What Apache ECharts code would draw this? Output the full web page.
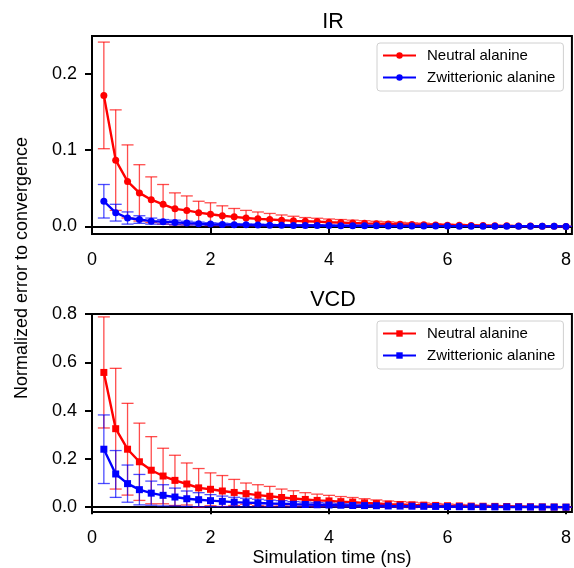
<!DOCTYPE html>
<html>
<head>
<meta charset="utf-8">
<script src="https://cdn.jsdelivr.net/npm/echarts@6/dist/echarts.min.js"></script>
<style>
  html, body { margin: 0; padding: 0; background: #fff; }
  #main { width: 574px; height: 568px; }
</style>
</head>
<body>
<div id="main"></div>
<script>
// 模拟时间 (ns)
const times = [0.2, 0.4, 0.6, 0.8, 1.0, 1.2, 1.4, 1.6, 1.8, 2.0,
               2.2, 2.4, 2.6, 2.8, 3.0, 3.2, 3.4, 3.6, 3.8, 4.0,
               4.2, 4.4, 4.6, 4.8, 5.0, 5.2, 5.4, 5.6, 5.8, 6.0,
               6.2, 6.4, 6.6, 6.8, 7.0, 7.2, 7.4, 7.6, 7.8, 8.0];

const seriesLabels = ['Neutral alanine', 'Zwitterionic alanine'];
const panelTitles = ['IR', 'VCD'];
const xTicks = [0, 2, 4, 6, 8];
const irTicks = [0, 0.1, 0.2];
const vcdTicks = [0, 0.2, 0.4, 0.6, 0.8];

// IR
const irNeutral = [0.172, 0.087, 0.059, 0.044, 0.035, 0.029, 0.023, 0.021, 0.018, 0.016,
                   0.014, 0.0125, 0.011, 0.0099, 0.009, 0.0082, 0.0073, 0.0068, 0.0063, 0.0055,
                   0.005, 0.0045, 0.004, 0.0036, 0.0032, 0.0028, 0.0025, 0.0022, 0.0019, 0.0016,
                   0.0014, 0.0012, 0.001, 0.0008, 0.0007, 0.0005, 0.0004, 0.0003, 0.0001, 0.0];
const irNeutralErr = [0.070, 0.066, 0.048, 0.037, 0.030, 0.026, 0.021, 0.019, 0.015, 0.015,
                      0.013, 0.011, 0.010, 0.009, 0.008, 0.0068, 0.006, 0.0048, 0.0044, 0.0042,
                      0.004, 0.0037, 0.0034, 0.0031, 0.0028, 0.0025, 0.0022, 0.002, 0.0017, 0.0015,
                      0.0013, 0.0011, 0.0009, 0.0008, 0.0006, 0.0005, 0.0004, 0.0003, 0.0001, 0.0];
const irZwit = [0.033, 0.018, 0.011, 0.009, 0.0069, 0.006, 0.0052, 0.0043, 0.0036, 0.003,
                0.0026, 0.0023, 0.002, 0.0018, 0.0016, 0.0014, 0.0013, 0.0012, 0.0011, 0.001,
                0.0009, 0.0008, 0.0008, 0.0007, 0.0006, 0.0006, 0.0005, 0.0005, 0.0004, 0.0004,
                0.0003, 0.0003, 0.0003, 0.0002, 0.0002, 0.0002, 0.0001, 0.0001, 0.0001, 0.0];
const irZwitErr = [0.022, 0.011, 0.008, 0.005, 0.004, 0.003, 0.003, 0.0025, 0.002, 0.0018,
                   0.0016, 0.0014, 0.0012, 0.0011, 0.001, 0.0009, 0.0008, 0.0008, 0.0007, 0.0006,
                   0.0006, 0.0005, 0.0005, 0.0004, 0.0004, 0.0004, 0.0003, 0.0003, 0.0003, 0.0002,
                   0.0002, 0.0002, 0.0002, 0.0001, 0.0001, 0.0001, 0.0001, 0.0001, 0.0, 0.0];

// VCD
const vcdNeutral = [0.558, 0.325, 0.240, 0.188, 0.153, 0.129, 0.111, 0.096, 0.080, 0.074,
                    0.067, 0.061, 0.056, 0.050, 0.045, 0.040, 0.036, 0.032, 0.028, 0.026,
                    0.023, 0.021, 0.018, 0.015, 0.0125, 0.011, 0.0095, 0.0085, 0.0072, 0.006,
                    0.0052, 0.0045, 0.0038, 0.0032, 0.0027, 0.0022, 0.0017, 0.0012, 0.0007, 0.0];
const vcdNeutralErr = [0.23, 0.25, 0.19, 0.16, 0.139, 0.115, 0.104, 0.087, 0.08, 0.068,
                       0.064, 0.054, 0.044, 0.043, 0.041, 0.035, 0.032, 0.028, 0.026, 0.023,
                       0.021, 0.019, 0.017, 0.015, 0.013, 0.012, 0.011, 0.009, 0.008, 0.007,
                       0.006, 0.005, 0.0045, 0.004, 0.0033, 0.0027, 0.002, 0.0014, 0.0008, 0.0];
const vcdZwit = [0.240, 0.1375, 0.0975, 0.0725, 0.058, 0.049, 0.042, 0.035, 0.031, 0.027,
                 0.024, 0.021, 0.019, 0.017, 0.015, 0.014, 0.012, 0.011, 0.010, 0.009,
                 0.008, 0.007, 0.0065, 0.006, 0.005, 0.0045, 0.004, 0.0035, 0.003, 0.0025,
                 0.002, 0.0018, 0.0015, 0.0012, 0.001, 0.0008, 0.0006, 0.0004, 0.0002, 0.0];
const vcdZwitErr = [0.142, 0.097, 0.077, 0.063, 0.05, 0.044, 0.037, 0.032, 0.029, 0.025,
                    0.022, 0.02, 0.018, 0.016, 0.014, 0.013, 0.011, 0.01, 0.009, 0.008,
                    0.0075, 0.0065, 0.006, 0.0055, 0.005, 0.0042, 0.0038, 0.0033, 0.0028, 0.0023,
                    0.0019, 0.0017, 0.0014, 0.0011, 0.0009, 0.0007, 0.0005, 0.0004, 0.0002, 0.0];

const RED = '#ff0000';
const BLUE = '#0000ff';
const FONT = 'Liberation Sans';

let chart = echarts.init(document.getElementById('main'), null, { renderer: 'canvas' });

// 误差棒 (custom series)
function errorSeries(idx, mean, err, color) {
    let data = [];
    for (let i = 0; i < times.length; i++) {
        data.push([times[i], mean[i] - err[i], mean[i] + err[i]]);
    }
    return {
        type: 'custom',
        xAxisIndex: idx,
        yAxisIndex: idx,
        silent: true,
        data: data,
        renderItem: function (params, api) {
            let top = api.coord([api.value(0), api.value(2)]);
            let bot = api.coord([api.value(0), api.value(1)]);
            let hw = 6;
            let st = { stroke: color, lineWidth: 1.3, opacity: 0.7 };
            return {
                type: 'group',
                children: [
                    { type: 'line', shape: { x1: top[0], y1: top[1], x2: bot[0], y2: bot[1] }, style: st },
                    { type: 'line', shape: { x1: top[0] - hw, y1: top[1], x2: top[0] + hw, y2: top[1] }, style: st },
                    { type: 'line', shape: { x1: bot[0] - hw, y1: bot[1], x2: bot[0] + hw, y2: bot[1] }, style: st }
                ]
            };
        }
    };
}

function lineSeries(idx, name, mean, color, symbol) {
    let data = [];
    for (let i = 0; i < times.length; i++) {
        data.push([times[i], mean[i]]);
    }
    return {
        type: 'line',
        name: name,
        xAxisIndex: idx,
        yAxisIndex: idx,
        data: data,
        symbol: symbol,
        symbolSize: 7,
        showAllSymbol: true,
        lineStyle: { color: color, width: 2.4 },
        itemStyle: { color: color },
        emphasis: { disabled: true }
    };
}

function xAxisCfg(idx, withName) {
    let ax = {
        type: 'value',
        gridIndex: idx,
        min: 0,
        max: 8.1,
        splitLine: { show: false },
        axisLine: { lineStyle: { color: '#000', width: 2 } },
        axisTick: { length: 7, lineStyle: { color: '#000', width: 2 }, customValues: xTicks },
        axisLabel: { color: '#000', fontSize: 18, fontFamily: FONT, margin: 17, customValues: xTicks }
    };
    if (withName) {
        ax.name = 'Simulation time (ns)';
        ax.nameLocation = 'middle';
        ax.nameGap = 37;
        ax.nameTextStyle = { color: '#000', fontSize: 18, fontFamily: FONT };
    }
    return ax;
}

function yAxisCfg(idx, min, max, ticks) {
    return {
        type: 'value',
        gridIndex: idx,
        min: min,
        max: max,
        splitLine: { show: false },
        axisLine: { lineStyle: { color: '#000', width: 2 } },
        axisTick: { length: 7, lineStyle: { color: '#000', width: 2 }, customValues: ticks },
        axisLabel: {
            color: '#000', fontSize: 18, fontFamily: FONT, margin: 15, customValues: ticks,
            formatter: function (v) { return v.toFixed(1); }
        }
    };
}

function legendCfg(top, prefix) {
    return {
        left: 377,
        top: top,
        orient: 'vertical',
        data: [prefix + seriesLabels[0], prefix + seriesLabels[1]],
        formatter: function (name) { return name.slice(prefix.length); },
        selectedMode: false,
        backgroundColor: '#fff',
        borderColor: '#d0d0d0',
        borderWidth: 1,
        borderRadius: 3,
        padding: [5, 8, 6, 5],
        itemWidth: 33,
        itemHeight: 8,
        itemGap: 7,
        textStyle: { color: '#000', fontSize: 15, fontFamily: FONT, padding: [0, 0, 0, 6] }
    };
}

let option = {
    backgroundColor: '#ffffff',
    animation: false,
    textStyle: { fontFamily: FONT },
    grid: [
        { left: 92, top: 36, width: 480, height: 198, show: true, borderColor: '#000', borderWidth: 2, backgroundColor: 'transparent' },
        { left: 92, top: 314, width: 480, height: 199, show: true, borderColor: '#000', borderWidth: 2, backgroundColor: 'transparent' }
    ],
    xAxis: [xAxisCfg(0, false), xAxisCfg(1, true)],
    yAxis: [yAxisCfg(0, -0.01, 0.25, irTicks), yAxisCfg(1, -0.02, 0.8, vcdTicks)],
    legend: [legendCfg(43, 'IR|'), legendCfg(321, 'VCD|')],
    graphic: [
        { type: 'text', x: 333, y: 22, style: { text: panelTitles[0], fontSize: 21.6, fontFamily: FONT, fill: '#000', textAlign: 'center', textVerticalAlign: 'middle' } },
        { type: 'text', x: 333, y: 300, style: { text: panelTitles[1], fontSize: 21.6, fontFamily: FONT, fill: '#000', textAlign: 'center', textVerticalAlign: 'middle' } },
        { type: 'text', x: 22, y: 268, rotation: Math.PI / 2,
          style: { text: 'Normalized error to convergence', fontSize: 18, fontFamily: FONT, fill: '#000', textAlign: 'center', textVerticalAlign: 'middle' } }
    ],
    series: [
        errorSeries(0, irNeutral, irNeutralErr, RED),
        lineSeries(0, 'IR|' + seriesLabels[0], irNeutral, RED, 'circle'),
        errorSeries(0, irZwit, irZwitErr, BLUE),
        lineSeries(0, 'IR|' + seriesLabels[1], irZwit, BLUE, 'circle'),
        errorSeries(1, vcdNeutral, vcdNeutralErr, RED),
        lineSeries(1, 'VCD|' + seriesLabels[0], vcdNeutral, RED, 'rect'),
        errorSeries(1, vcdZwit, vcdZwitErr, BLUE),
        lineSeries(1, 'VCD|' + seriesLabels[1], vcdZwit, BLUE, 'rect')
    ]
};

chart.setOption(option);
</script>
</body>
</html>
